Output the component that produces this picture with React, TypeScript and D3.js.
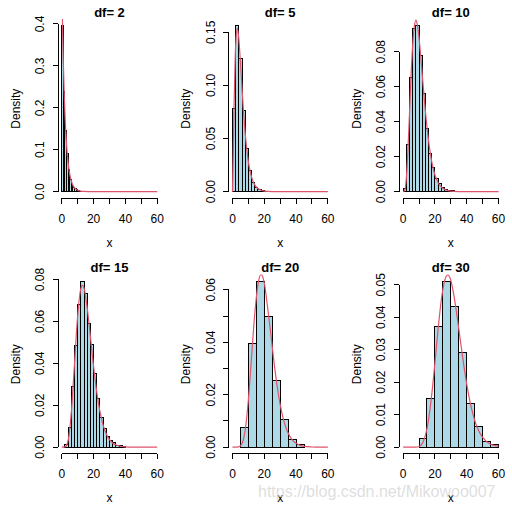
import React from 'react';
import * as d3 from 'd3';

const W = 512;
const H = 511;

const dfs = [2, 5, 10, 15, 20, 30];
const titles = ['df= 2', 'df= 5', 'df= 10', 'df= 15', 'df= 20', 'df= 30'];
const binStarts = [0, 0, 0, 2, 5, 10];
const binWidths = [1, 2, 2, 2, 5, 5];

const hist2 = [0.396, 0.24, 0.146, 0.09, 0.052, 0.03, 0.018, 0.011, 0.007, 0.004, 0.002, 0.0012, 0.0008, 0.0005];
const hist5 = [0.078, 0.1563, 0.125, 0.076, 0.041, 0.02, 0.009, 0.0042, 0.0018, 0.0008, 0.0004];
const hist10 = [0.002, 0.027, 0.065, 0.093, 0.0949, 0.078, 0.056, 0.036, 0.022, 0.014, 0.0076, 0.0045, 0.0025, 0.0014, 0.0008, 0.0005, 0.0003];
const hist15 = [0.0012, 0.0095, 0.029, 0.0485, 0.068, 0.0792, 0.0735, 0.059, 0.049, 0.035, 0.023, 0.014, 0.009, 0.005, 0.003, 0.002, 0.001, 0.0006, 0.0004];
const hist20 = [0.0074, 0.0394, 0.0633, 0.05, 0.0253, 0.0106, 0.0029, 0.001];
const hist30 = [0.0026, 0.0149, 0.0372, 0.0511, 0.0433, 0.0291, 0.0133, 0.0063, 0.0016, 0.0007];
const hists = [hist2, hist5, hist10, hist15, hist20, hist30];

const curve2: [number, number][] = [[0, 0.5], [0.5, 0.389], [1, 0.303], [1.5, 0.236], [2, 0.184], [3, 0.112], [4, 0.068], [5, 0.041], [6, 0.025], [7, 0.015], [8, 0.009], [10, 0.0034], [12, 0.0012], [14, 0.0005], [17, 0.0001], [20, 0], [60, 0]];
const curve5: [number, number][] = [[0, 0], [0.5, 0.037], [1, 0.081], [1.5, 0.114], [2, 0.138], [3, 0.154], [4, 0.144], [5, 0.122], [6, 0.097], [7, 0.074], [8, 0.055], [10, 0.028], [12, 0.0137], [14, 0.0064], [16, 0.0029], [18, 0.0013], [20, 0.0005], [25, 0.00005], [30, 0], [60, 0]];
const curve10: [number, number][] = [[0, 0], [1, 0.0008], [2, 0.0077], [3, 0.0235], [4, 0.045], [5, 0.067], [6, 0.084], [7, 0.094], [8, 0.098], [9, 0.095], [10, 0.088], [11, 0.078], [12, 0.067], [14, 0.046], [16, 0.029], [18, 0.017], [20, 0.0095], [22, 0.0051], [24, 0.0027], [26, 0.0013], [28, 0.0007], [30, 0.0003], [35, 0.00005], [40, 0], [60, 0]];
const curve15: [number, number][] = [[0, 0], [2, 0.0001], [4, 0.0033], [6, 0.0168], [8, 0.04], [10, 0.063], [12, 0.0757], [13, 0.0772], [14, 0.0759], [16, 0.0664], [18, 0.0526], [20, 0.0384], [22, 0.0262], [24, 0.017], [26, 0.0105], [28, 0.0063], [30, 0.0036], [32, 0.002], [35, 0.0008], [40, 0.00016], [45, 0], [60, 0]];
const curve20: [number, number][] = [[0, 0], [4, 0.0001], [6, 0.0014], [8, 0.0066], [10, 0.0181], [12, 0.0344], [14, 0.0507], [16, 0.062], [18, 0.0659], [20, 0.0626], [22, 0.0538], [24, 0.0437], [26, 0.033], [28, 0.0237], [30, 0.0162], [32, 0.0107], [34, 0.0068], [36, 0.0042], [38, 0.0025], [40, 0.0015], [45, 0.0003], [50, 0.00007], [55, 0], [60, 0]];
const curve30: [number, number][] = [[0, 0], [8, 0], [10, 0.0002], [12, 0.0011], [14, 0.0036], [16, 0.0085], [18, 0.0162], [20, 0.026], [22, 0.0364], [24, 0.0453], [26, 0.051], [28, 0.053], [30, 0.0513], [32, 0.0465], [34, 0.04], [36, 0.0328], [38, 0.0257], [40, 0.0194], [42, 0.0141], [44, 0.01], [46, 0.0068], [48, 0.0046], [50, 0.003], [55, 0.0009], [60, 0.0003]];
const curves = [curve2, curve5, curve10, curve15, curve20, curve30];

const xTicks = [0, 10, 20, 30, 40, 50, 60];
const xTickLabels = ['0', '', '20', '', '40', '', '60'];

const yTicks = [
  [0, 0.1, 0.2, 0.3, 0.4],
  [0, 0.05, 0.1, 0.15],
  [0, 0.02, 0.04, 0.06, 0.08],
  [0, 0.02, 0.04, 0.06, 0.08],
  [0, 0.01, 0.02, 0.03, 0.04, 0.05, 0.06],
  [0, 0.01, 0.02, 0.03, 0.04, 0.05],
];
const yTickLabels = [
  ['0.0', '0.1', '0.2', '0.3', '0.4'],
  ['0.00', '0.05', '0.10', '0.15'],
  ['0.00', '0.02', '0.04', '0.06', '0.08'],
  ['0.00', '0.02', '0.04', '0.06', '0.08'],
  ['0.00', '', '0.02', '', '0.04', '', '0.06'],
  ['0.00', '0.01', '0.02', '0.03', '0.04', '0.05'],
];

const FONT = 'Liberation Sans, Arial, sans-serif';
const RED = '#DF536B';
const FILL = '#ADD8E6';

export default function App() {
  const panelW = W / 3;
  const panelH = H / 2;
  const L = 58, R = 161, T = 19, B = 198.3;
  const midX = (L + R) / 2;

  return (
    <svg width={W} height={H} style={{ position: 'absolute', left: 0, top: 0, background: '#fff' }} fontFamily={FONT}>
      <rect width={W} height={H} fill="#fff" />
      {dfs.map((df, i) => {
        const col = i % 3;
        const row = Math.floor(i / 3);
        const ox = col * panelW;
        const oy = row * panelH;
        const hist = hists[i];
        const ymax = d3.max(hist) as number;
        const x = d3.scaleLinear().domain([-2.4, 62.4]).range([L, R]);
        const y = d3.scaleLinear().domain([-0.04 * ymax, 1.04 * ymax]).range([B, T]);
        const line = d3.line<[number, number]>()
          .x(d => x(d[0]))
          .y(d => y(d[1]))
          .curve(d3.curveMonotoneX);
        const clipId = `clip${i}`;
        const yt = yTicks[i];
        return (
          <g key={df} transform={`translate(${ox},${oy})`}>
            <defs>
              <clipPath id={clipId}>
                <rect x={L} y={T} width={R - L} height={B - T} />
              </clipPath>
            </defs>
            {hist.map((v, j) => {
              const x0 = binStarts[i] + j * binWidths[i];
              const x1 = x0 + binWidths[i];
              return (
                <rect key={j} x={x(x0)} y={y(v)} width={x(x1) - x(x0)} height={y(0) - y(v)}
                  fill={FILL} stroke="#000" strokeWidth={1} shapeRendering="crispEdges" />
              );
            })}
            <path d={line(curves[i]) || ''} fill="none" stroke={RED} strokeWidth={1.2} clipPath={`url(#${clipId})`} />
            <line x1={x(xTicks[0])} x2={x(xTicks[xTicks.length - 1])} y1={B} y2={B} stroke="#000" shapeRendering="crispEdges" />
            {xTicks.map((t, k) => (
              <g key={k}>
                <line x1={x(t)} x2={x(t)} y1={B} y2={B + 5.5} stroke="#000" shapeRendering="crispEdges" />
                {xTickLabels[k] && (
                  <text x={x(t)} y={222.5} fontSize={12} textAnchor="middle">{xTickLabels[k]}</text>
                )}
              </g>
            ))}
            <line x1={L} x2={L} y1={y(yt[0])} y2={y(yt[yt.length - 1])} stroke="#000" shapeRendering="crispEdges" />
            {yt.map((t, k) => (
              <g key={k}>
                <line x1={L - 5.5} x2={L} y1={y(t)} y2={y(t)} stroke="#000" shapeRendering="crispEdges" />
                {yTickLabels[i][k] && (
                  <text transform={`translate(44,${y(t)}) rotate(-90)`} fontSize={12} textAnchor="middle">{yTickLabels[i][k]}</text>
                )}
              </g>
            ))}
            <text x={midX} y={16.8} fontSize={13} fontWeight="bold" textAnchor="middle">{titles[i]}</text>
            <text x={midX} y={246.5} fontSize={12} textAnchor="middle">x</text>
            <text transform={`translate(19.5,${(T + B) / 2}) rotate(-90)`} fontSize={12} textAnchor="middle">Density</text>
          </g>
        );
      })}
      <text x={258} y={497} fontSize={16} fill="#d0d0d0" fillOpacity={0.7}>https://blog.csdn.net/Mikowoo007</text>
    </svg>
  );
}
